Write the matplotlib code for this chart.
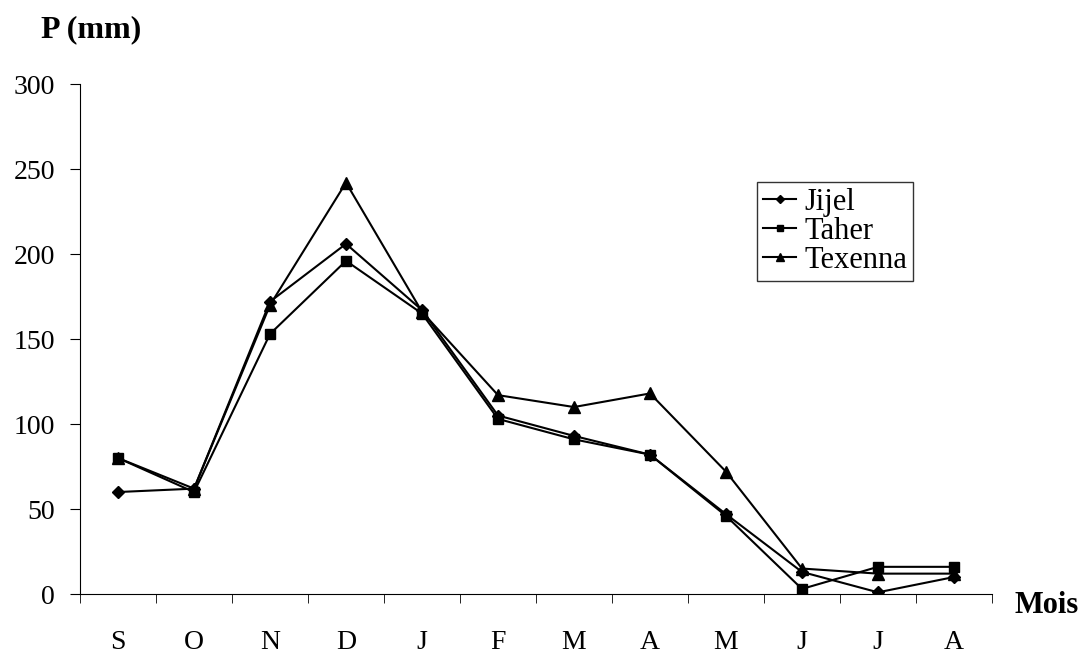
import matplotlib.pyplot as plt

# Monthly precipitation (mm), September to August
months = ['S', 'O', 'N', 'D', 'J', 'F', 'M', 'A', 'M', 'J', 'J', 'A']
jijel = [60, 62, 172, 206, 167, 105, 93, 82, 47, 13, 1, 10]
taher = [80, 60, 153, 196, 165, 103, 91, 82, 46, 3, 16, 16]
texenna = [80, 62, 170, 242, 166, 117, 110, 118, 72, 15, 12, 12]

plt.rcParams['font.family'] = ['Liberation Serif', 'DejaVu Serif']

fig = plt.figure(figsize=(10.86, 6.53), dpi=100)
ax = fig.add_axes([0.0737, 0.0903, 0.8397, 0.781])

x = list(range(len(months)))
ax.plot(x, jijel, color='black', lw=1.5, marker='D', ms=6, label='Jijel')
ax.plot(x, taher, color='black', lw=1.5, marker='s', ms=7, label='Taher')
ax.plot(x, texenna, color='black', lw=1.5, marker='^', ms=8, label='Texenna')

ax.set_xlim(-0.5, len(months) - 0.5)
ax.set_ylim(0, 300)
ax.set_yticks([0, 50, 100, 150, 200, 250, 300])
ax.tick_params(axis='y', labelsize=20, length=7, pad=11, direction='out')

# month labels centred, tick marks between months
ax.set_xticks(x)
ax.set_xticklabels(months, fontsize=20)
ax.tick_params(axis='x', which='major', length=0, pad=26)
ax.set_xticks([i - 0.5 for i in range(len(months) + 1)], minor=True)
ax.tick_params(axis='x', which='minor', length=6.5, direction='out')

for s in ['top', 'right']:
    ax.spines[s].set_visible(False)

leg = ax.legend(loc='upper left', bbox_to_anchor=(0.742, 0.808), borderaxespad=0,
                fancybox=False, edgecolor='black', fontsize=22, handlelength=1.1,
                handletextpad=0.25, labelspacing=0.0, borderpad=0.2, markerscale=0.7)
leg.get_frame().set_linewidth(1.0)

fig.text(0.084, 0.954, 'P (mm)', fontsize=23, fontweight='bold', ha='center', va='center')
fig.text(0.934, 0.072, 'Mois', fontsize=22, fontweight='bold', ha='left', va='center')

fig.savefig('out.png', dpi=100)
